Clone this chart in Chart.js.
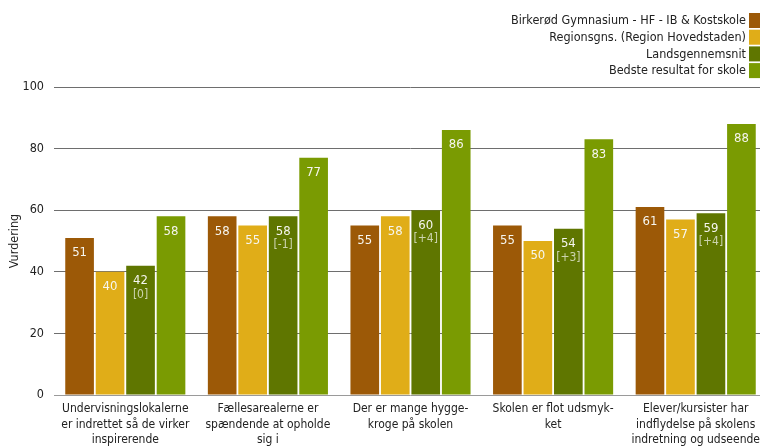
<!DOCTYPE html>
<html>
<head>
<meta charset="utf-8">
<script src="https://cdn.jsdelivr.net/npm/chart.js@4/dist/chart.umd.min.js"></script>
<style>
    html, body { margin: 0; padding: 0; background: #fff; overflow: hidden; }
    #wrap { width: 767px; height: 446px; position: relative; }
</style>
</head>
<body>
<div id="wrap"><canvas id="Indretning"></canvas></div>
<script>
    var kategorier = [
        ["Undervisningslokalerne", "er indrettet så de virker", "inspirerende"],
        ["Fællesarealerne er", "spændende at opholde", "sig i"],
        ["Der er mange hygge-", "kroge på skolen"],
        ["Skolen er flot udsmyk-", "ket"],
        ["Elever/kursister har", "indflydelse på skolens", "indretning og udseende"]
    ];
    var skole = [51, 58, 55, 55, 61];
    var region = [40, 55, 58, 50, 57];
    var lands = [42, 58, 60, 54, 59];
    var landsForskel = ["[0]", "[-1]", "[+4]", "[+3]", "[+4]"];
    var bedste = [58, 77, 86, 83, 88];
    var yTicks = [0, 20, 40, 60, 80, 100];

    var FONT = "'DejaVu Sans Condensed', 'Liberation Sans', sans-serif";

    // tal inde i søjlerne
    var vaerdiTekst = {
        id: 'vaerdiTekst',
        afterDatasetsDraw: function (chart) {
            var ctx = chart.ctx;
            ctx.save();
            ctx.textAlign = 'center';
            ctx.textBaseline = 'middle';
            chart.data.datasets.forEach(function (ds, d) {
                var meta = chart.getDatasetMeta(d);
                meta.data.forEach(function (bar, i) {
                    ctx.fillStyle = '#f6f6f0';
                    ctx.font = '13px ' + FONT;
                    ctx.fillText(Math.round(ds.data[i]), bar.x, bar.y + 15);
                    if (ds.forskel) {
                        ctx.fillStyle = 'rgba(255,255,255,0.68)';
                        ctx.font = '12px ' + FONT;
                        ctx.fillText(ds.forskel[i], bar.x, bar.y + 29);
                    }
                });
            });
            ctx.restore();
        }
    };

    // legend øverst til højre, tekst før farveboks
    var hoejreLegend = {
        id: 'hoejreLegend',
        afterDraw: function (chart) {
            var ctx = chart.ctx;
            ctx.save();
            ctx.font = '12.5px ' + FONT;
            ctx.textAlign = 'right';
            ctx.textBaseline = 'middle';
            chart.data.datasets.forEach(function (ds, d) {
                var y = 20 + d * 16.7;
                ctx.fillStyle = ds.backgroundColor;
                ctx.fillRect(749, y - 7, 14, 15);
                ctx.fillStyle = '#222';
                ctx.fillText(ds.label, 746, y + 1);
            });
            ctx.restore();
        }
    };

    function Indretning()
    {
        var chartdata = {
            labels: kategorier,
            datasets: [
                { label: "Birkerød Gymnasium - HF - IB & Kostskole", backgroundColor: '#9c5907', data: skole },
                { label: "Regionsgns. (Region Hovedstaden)", backgroundColor: '#e0ad18', data: region },
                { label: "Landsgennemsnit", backgroundColor: '#5f7600', data: lands, forskel: landsForskel },
                { label: "Bedste resultat for skole", backgroundColor: '#7a9b02', data: bedste }
            ]
        };

        var graphTarget = document.getElementById("Indretning");

        var barGraph = new Chart(graphTarget, {
            type: 'bar',
            data: chartdata,
            options: {
                responsive: true,
                maintainAspectRatio: false,
                animation: false,
                layout: { padding: { top: 87, right: 0, left: 0, bottom: 0 } },
                datasets: { bar: { categoryPercentage: 0.855, barPercentage: 0.94 } },
                plugins: {
                    legend: { display: false },
                    tooltip: { enabled: false }
                },
                scales: {
                    x: {
                        grid: { display: false, drawTicks: false },
                        border: { display: false },
                        ticks: {
                            color: '#222',
                            font: { family: FONT, size: 12, lineHeight: 1.31 },
                            maxRotation: 0,
                            autoSkip: false,
                            padding: 6
                        },
                        afterFit: function (scale) { scale.height = 51; }
                    },
                    y: {
                        min: 0,
                        max: 100,
                        afterBuildTicks: function (scale) {
                            scale.ticks = yTicks.map(function (v) { return { value: v }; });
                        },
                        grid: {
                            color: function (c) { return c.tick && c.tick.value === 0 ? '#9a9a9a' : '#6e6e6e'; },
                            lineWidth: 1,
                            drawTicks: false
                        },
                        border: { display: false },
                        ticks: {
                            color: '#222',
                            font: { family: FONT, size: 12.5 },
                            padding: 10
                        },
                        title: {
                            display: true,
                            text: 'Vurdering',
                            color: '#222',
                            font: { family: FONT, size: 12.5 },
                            padding: { top: 7, bottom: 0 }
                        },
                        afterFit: function (scale) { scale.width = 54; }
                    }
                }
            },
            plugins: [vaerdiTekst, hoejreLegend]
        });
    }

    Indretning();
</script>
</body>
</html>
